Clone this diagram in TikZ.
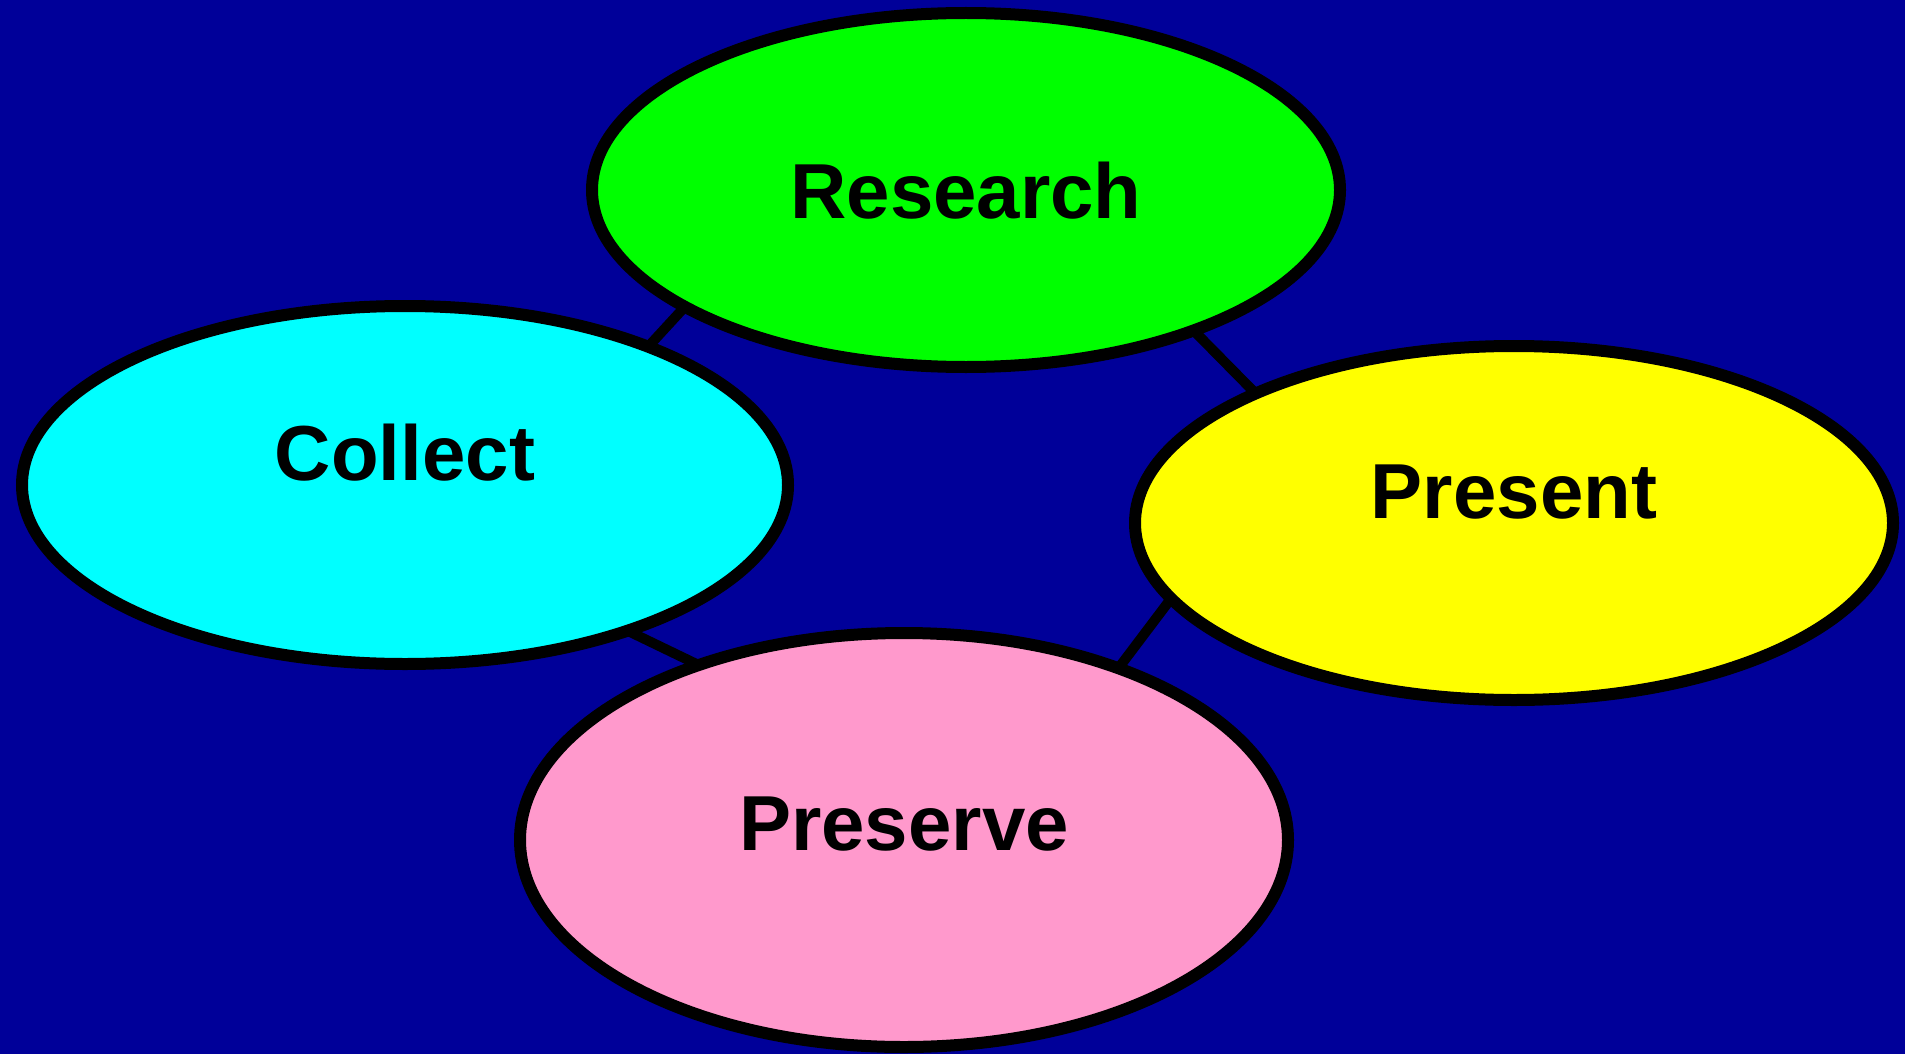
\documentclass[tikz,border=0pt]{standalone}
\usepackage{fontspec}
\setmainfont{Liberation Sans}
\usetikzlibrary{shapes.geometric,backgrounds}
\definecolor{bgblue}{RGB}{0,0,153}
\definecolor{rgreen}{RGB}{0,255,0}
\definecolor{ccyan}{RGB}{0,255,255}
\definecolor{pyellow}{RGB}{255,255,0}
\definecolor{ppink}{RGB}{255,153,204}
\newcommand{\lbltxt}[2]{\raisebox{#1}[0pt][0pt]{#2}}
\tikzset{
  blob/.style={ellipse, draw=black, line width=6pt, inner sep=0pt,
    font=\fontsize{39pt}{39pt}\selectfont\bfseries},
  link/.style={draw=black, line width=5pt, shorten <=-4pt, shorten >=-4pt}
}
\begin{document}
\begin{tikzpicture}[x=0.5pt,y=-0.5pt]
\useasboundingbox (0,0) rectangle (1905,1054);
\node[blob, fill=rgreen, minimum width=374pt, minimum height=177pt] (research) at (966,190) {\lbltxt{-14pt}{Research}};
\node[blob, fill=ccyan, minimum width=383pt, minimum height=179pt] (collect) at (405,485) {\lbltxt{2.5pt}{Collect}};
\node[blob, fill=pyellow, minimum width=379pt, minimum height=177pt] (present) at (1514,523) {\lbltxt{2.5pt}{Present}};
\node[blob, fill=ppink, minimum width=384pt, minimum height=207pt] (preserve) at (904,840) {\lbltxt{-5pt}{Preserve}};
\begin{pgfonlayer}{background}
\fill[bgblue] (0,0) rectangle (1905,1054);
\draw[link] (research.203.4) -- (collect.30.1);
\draw[link] (research.328.4) -- (present.153.6);
\draw[link] (collect.327.7) -- (preserve.140.6);
\draw[link] (present.193.9) -- (preserve.39.4);
\end{pgfonlayer}
\end{tikzpicture}
\end{document}
